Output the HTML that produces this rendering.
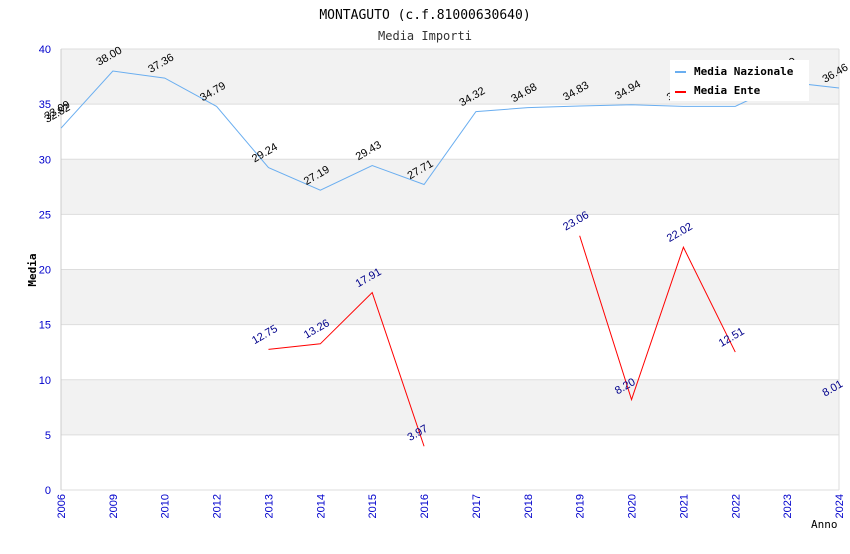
<!DOCTYPE html>
<html><head><meta charset="utf-8"><style>
body{margin:0;background:#fff;font-family:"DejaVu Sans Mono","Liberation Mono",monospace}
</style></head><body>
<svg width="850" height="550" xmlns="http://www.w3.org/2000/svg">
<text x="425" y="19" text-anchor="middle" font-size="13" fill="#000" font-family="DejaVu Sans Mono, monospace">MONTAGUTO (c.f.81000630640)</text>
<text x="425" y="40" text-anchor="middle" font-size="12" fill="#333" font-family="DejaVu Sans Mono, monospace">Media Importi</text>
<g id="bands"></g><g id="grid"></g><g id="axes"></g><g id="series"></g><g id="labels"></g>
<text x="36" y="270" transform="rotate(-90 36 270)" text-anchor="middle" font-size="11" font-weight="bold" font-family="DejaVu Sans Mono, monospace">Media</text>
<text x="811" y="528" font-size="11" font-family="DejaVu Sans Mono, monospace">Anno</text>
<g>
<rect x="670" y="60" width="139" height="41" fill="#fff"/>
<line x1="675" y1="72" x2="686" y2="72" stroke="#6aaef0" stroke-width="2"/>
<text x="694" y="75" font-size="11" font-weight="bold" font-family="DejaVu Sans Mono, monospace">Media Nazionale</text>
<line x1="675" y1="92" x2="686" y2="92" stroke="#f00" stroke-width="2"/>
<text x="694" y="94" font-size="11" font-weight="bold" font-family="DejaVu Sans Mono, monospace">Media Ente</text>
</g>
</svg>
<script>
const categories=["2006","2009","2010","2012","2013","2014","2015","2016","2017","2018","2019","2020","2021","2022","2023","2024"];
const nazionale=[32.82,38.00,37.36,34.79,29.24,27.19,29.43,27.71,34.32,34.68,34.83,34.94,34.8,34.8,37.0,36.46];
const ente=[null,null,null,null,12.75,13.26,17.91,3.97,null,null,23.06,8.20,22.02,12.51,null,8.01];
const yTicks=[0,5,10,15,20,25,30,35,40];
const NS="http://www.w3.org/2000/svg";
const L=61,R=839,T=49,B=490;
const x=i=>L+i*(R-L)/(categories.length-1);
const y=v=>B-(v/40)*(B-T);
function mk(tag,attrs,parent,txt){const e=document.createElementNS(NS,tag);for(const k in attrs)e.setAttribute(k,attrs[k]);if(txt!==undefined)e.textContent=txt;document.getElementById(parent).appendChild(e);return e;}
for(let i=0;i<yTicks.length-1;i++){if(i%2===1){const r=mk('rect',{x:L,y:y(yTicks[i+1]),width:R-L,height:y(yTicks[i])-y(yTicks[i+1]),fill:'#f2f2f2'},'bands');

}}
yTicks.forEach(t=>{const g=mk('line',{x1:L,x2:R,y1:y(t),y2:y(t),stroke:'#ddd'},'grid');


const tx=mk('text',{x:L-10,y:y(t)+4,'text-anchor':'end','font-size':11,fill:'#00c','font-family':'Liberation Sans, sans-serif'},'axes',String(t));

});
mk('line',{x1:L,x2:L,y1:T,y2:B,stroke:'#ccc'},'axes');mk('line',{x1:R,x2:R,y1:T,y2:B,stroke:'#ddd'},'axes');
categories.forEach((c,i)=>{const tx=mk('text',{x:x(i)+4,y:B+4,'text-anchor':'end','font-size':11,fill:'#00c','font-family':'Liberation Sans, sans-serif',transform:`rotate(-90 ${x(i)+4} ${B+4})`},'axes',c);

});
function drawSeries(vals,color,lblColor,name){let segs=[],cur=[];vals.forEach((v,i)=>{if(v===null){if(cur.length)segs.push(cur);cur=[];}else cur.push([x(i),y(v)]);});if(cur.length)segs.push(cur);
segs.forEach(s=>{if(s.length<2)return;const p=mk('polyline',{points:s.map(q=>q.join(',')).join(' '),fill:'none',stroke:color,'stroke-width':1},'series');

});
vals.forEach((v,i)=>{if(v===null)return;const lx=x(i)-14,ly=y(v)-5;const t=mk('text',{x:lx,y:ly,'font-size':11,fill:lblColor,'font-family':'Liberation Sans, sans-serif',transform:`rotate(-30 ${lx} ${ly})`},'labels',v.toFixed(2));

});}
drawSeries(nazionale,'#6aaef0','#000','nazionale');
drawSeries(ente,'#f00','#00008b','ente');
const ex=mk('text',{x:x(0)-14,y:y(33.09)-5,'font-size':11,fill:'#000','font-family':'Liberation Sans, sans-serif',transform:`rotate(-30 ${x(0)-14} ${y(33.09)-5})`},'labels','33.09');


</script>
</body></html>
